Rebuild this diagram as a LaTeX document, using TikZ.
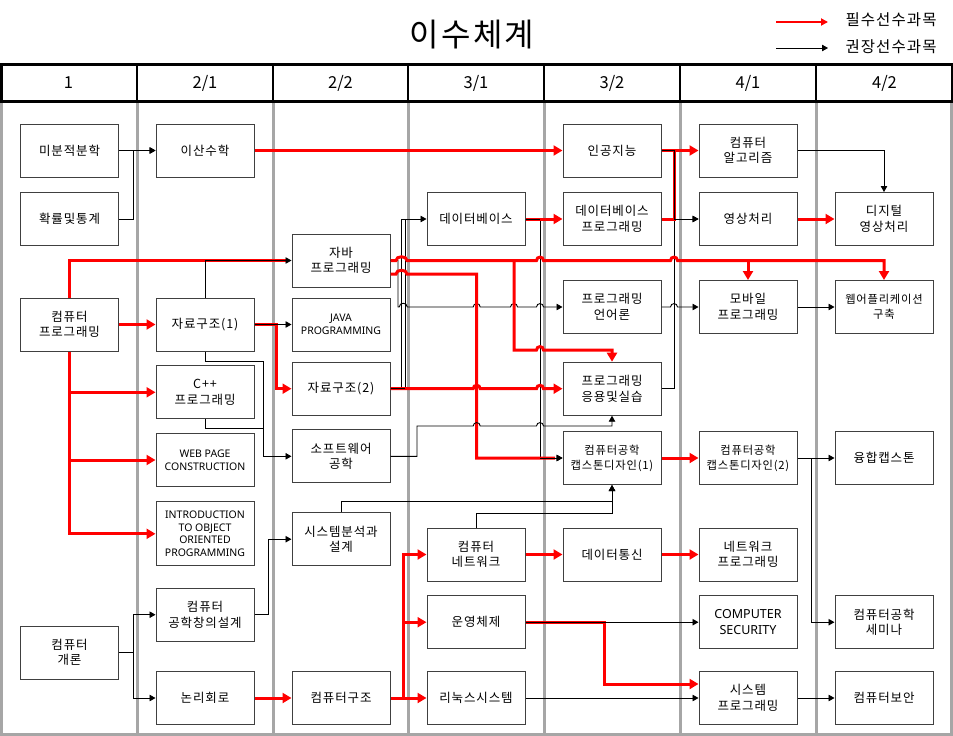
\documentclass[tikz,border=0pt]{standalone}
\usepackage{fontspec}
\setmainfont{Noto Sans CJK KR}
\newfontfamily\kr[LetterSpace=7]{Noto Sans CJK KR}
\newfontfamily\en{Noto Sans}
\usetikzlibrary{arrows.meta,calc}
\definecolor{gl}{RGB}{166,166,166}
\definecolor{rd}{RGB}{255,0,0}
\newcommand{\hp}[2]{-- ({#1-3.5},#2) .. controls ({#1-3.5},{#2-4.5}) and ({#1+3.5},{#2-4.5}) .. ({#1+3.5},#2)}
\newcommand{\hpw}[3]{-- ({#1-#3},#2) .. controls ({#1-#3},{#2-5}) and ({#1+#3},{#2-5}) .. ({#1+#3},#2)}
\begin{document}
\begin{tikzpicture}[x=1pt,y=-1pt,
 box/.style={draw=black!75,line width=1pt,fill=white,minimum width=98pt,minimum height=53pt,inner sep=1pt,align=center,font=\kr\fontsize{12.5}{15.5}\selectfont},
 boxs/.style={box,font=\kr\fontsize{11.3}{15}\selectfont},
 boxe/.style={box,font=\en\fontsize{10.5}{12.5}\selectfont},
 boxc/.style={box,font=\en\fontsize{12.5}{16.5}\selectfont},
 blk/.style={draw=black,line width=0.9pt},
 blka/.style={blk,-{Triangle[length=6pt,width=6.5pt]}},
 rl/.style={draw=rd,line width=3pt},
 rla/.style={rl,-{Triangle[length=9pt,width=10pt]}},
 hdr/.style={font=\fontsize{16.5}{18}\selectfont}
]
\useasboundingbox (0,0) rectangle (953,736);
\fill[white] (0,0) rectangle (953,736);

% title and legend
\node[font=\kr\fontsize{32}{36}\selectfont] (title) at (472,35) {이수체계};
\coordinate (lga) at (776,22);
\coordinate (lgb) at (828,22);
\draw[rd,line width=2pt,-{Triangle[length=7pt,width=7pt]}] (lga) -- (lgb);
\node[anchor=west,font=\kr\fontsize{15.5}{17}\selectfont] (lgt1) at (842,20) {필수선수과목};
\coordinate (lgc) at (776,48);
\coordinate (lgd) at (828,48);
\draw[blka] (lgc) -- (lgd);
\node[anchor=west,font=\kr\fontsize{15.5}{17}\selectfont] (lgt2) at (842,47) {권장선수과목};

% grey column lines
\foreach \x in {1.5,137,273,408,544,680,816,951.5}
  \draw[gl,line width=3pt] (\x,102.5) -- (\x,736);
\draw[gl,line width=3pt] (0,734.5) -- (953,734.5);

% header
\draw[line width=2.5pt] (1.25,64.5) rectangle (951.75,101.5);
\foreach \x in {137,273,408,544,680,816}
  \draw[line width=2.5pt] (\x,64.5) -- (\x,101.5);
\node[hdr] (h1) at (68.5,83) {1};
\node[hdr] (h2) at (205,83) {2/1};
\node[hdr] (h3) at (340.5,83) {2/2};
\node[hdr] (h4) at (476,83) {3/1};
\node[hdr] (h5) at (612,83) {3/2};
\node[hdr] (h6) at (748,83) {4/1};
\node[hdr] (h7) at (884.5,83) {4/2};

% column 1
\node[box] (c1a) at (69.5,150.5) {미분적분학};
\node[box] (c1b) at (69.5,219) {확률및통계};
\node[box] (c1c) at (69.5,324.5) {컴퓨터\\프로그래밍};
\node[box] (c1d) at (69.5,652.5) {컴퓨터\\개론};
% column 2
\node[box] (c2a) at (205,150.5) {이산수학};
\node[box] (c2b) at (205,324.5) {자료구조(1)};
\node[box] (c2c) at (205,392.3) {C++\\프로그래밍};
\node[boxe] (c2d) at (205,460) {WEB PAGE\\CONSTRUCTION};
\node[boxe,minimum height=64pt] (c2e) at (205,533.8) {INTRODUCTION\\TO OBJECT\\ORIENTED\\PROGRAMMING};
\node[box] (c2f) at (205,614.7) {컴퓨터\\공학창의설계};
\node[box] (c2g) at (205,698) {논리회로};
% column 3
\node[box] (c3a) at (341,260.5) {자바\\프로그래밍};
\node[boxe] (c3b) at (341,324.5) {JAVA\\PROGRAMMING};
\node[box] (c3c) at (341,388.7) {자료구조(2)};
\node[box] (c3d) at (341,456.3) {소프트웨어\\공학};
\node[box] (c3e) at (341,539.2) {시스템분석과\\설계};
\node[box] (c3f) at (341,698) {컴퓨터구조};
% column 4
\node[box] (c4a) at (476,219) {데이터베이스};
\node[box] (c4b) at (476,554.5) {컴퓨터\\네트워크};
\node[box] (c4c) at (476,622.2) {운영체제};
\node[box] (c4d) at (476,698) {리눅스시스템};
% column 5
\node[box] (c5a) at (612,150.5) {인공지능};
\node[box] (c5b) at (612,219) {데이터베이스\\프로그래밍};
\node[box] (c5c) at (612,307) {프로그래밍\\언어론};
\node[box] (c5d) at (612,388.7) {프로그래밍\\응용및실습};
\node[boxs] (c5e) at (612,458) {컴퓨터공학\\캡스톤디자인(1)};
\node[box] (c5f) at (612,554.5) {데이터통신};
% column 6
\node[box] (c6a) at (748,150.5) {컴퓨터\\알고리즘};
\node[box] (c6b) at (748,219) {영상처리};
\node[box] (c6c) at (748,307) {모바일\\프로그래밍};
\node[boxs] (c6d) at (748,458) {컴퓨터공학\\캡스톤디자인(2)};
\node[box] (c6e) at (748,554.5) {네트워크\\프로그래밍};
\node[boxc] (c6f) at (748,622.2) {COMPUTER\\SECURITY};
\node[box] (c6g) at (748,698) {시스템\\프로그래밍};
% column 7
\node[box] (c7a) at (884,219) {디지털\\영상처리};
\node[boxs] (c7b) at (884,307) {웹어플리케이션\\구축};
\node[box] (c7c) at (884,458) {융합캡스톤};
\node[box] (c7d) at (884,622.2) {컴퓨터공학\\세미나};
\node[box] (c7e) at (884,698) {컴퓨터보안};

% ---------- black connectors lying under red ones
\draw[blka] (c3c.east) -- (405,388.7) |- (c4a.west);
\draw[blk] (c3c.east) -- (401.5,388.7) -- (401.5,219) -- (405,219);
\draw[blka] (c3a.east) -- (398,260.5) -- (398,307) \hpw{403.25}{307}{4} \hp{476.7}{307} \hp{514}{307} \hp{540}{307} -- (c5c.west);
\draw[blka] (c4a.east) -- (540,219) -- (540,458) -- (c5e.west);
\draw[blka] (c5d.east) -- (674,388.7) -- (674,219) -- (c6b.west);

% ---------- red connectors
\draw[rla] (c2a.east) -- (c5a.west);
\draw[rla] (c5a.east) -- (c6a.west);
\draw[rl] (c5b.east) -- (674,219) -- (674,150.5);
\draw[rla] (c6b.east) -- (c7a.west);
\draw[rla] (c4a.east) -- (c5b.west);
\draw[rla] (c1c.east) -- (c2b.west);
\draw[rl] (c1c.north) |- (286,260.5);
\draw[rla] (c1c.south) |- (c2c.west);
\draw[rla] (c1c.south) |- (c2d.west);
\draw[rla] (c1c.south) |- (c2e.west);
\draw[rla] (c2b.east) -- (276.5,324.5) |- (c3c.west);
\draw[rla] (c3a.east) \hpw{401.5}{260.5}{5.5} -- (514,260.5) \hp{540}{260.5} \hp{674}{260.5} -| (c7b.north);
\draw[rla] (514,260.5) -- (514,350) \hp{540}{350} -| (c5d.north);
\draw[rla] (c6c.north |- c3a.east) -- (c6c.north);
\draw[rl] ($(c3a.east)+(0,13.5)$) \hpw{401.5}{274}{5.5} -- (476.7,274) -- (476.7,458) -- (555,458);
\draw[rla] (c3c.east) \hp{476.7}{388.7} \hp{540}{388.7} -- (c5d.west);
\draw[rla] (c5e.east) -- (c6d.west);
\draw[rla] (c4b.east) -- (c5f.west);
\draw[rla] (c5f.east) -- (c6e.west);
\draw[rla] (c4c.east) -- (604.6,622.2) |- ($(c6g.west)+(0,-14)$);
\draw[rla] (c2g.east) -- (c3f.west);
\draw[rla] (c3f.east) -- (403.5,698) |- (c4b.west);
\draw[rla] (403.5,698) |- (c4c.west);
\draw[rla] (c3f.east) -- (c4d.west);

% ---------- black connectors on top
\draw[blka] (c1a.east) -- (c2a.west);
\draw[blka] (c1b.east) -- ++(14,0) |- (c2a.west);
\draw[blka] (c1d.east) -- ++(14,0) |- (c2f.west);
\draw[blka] (c1d.east) -- ++(14,0) |- (c2g.west);
\draw[blka] (c2f.east) -- ++(14,0) |- (c3e.west);
\draw[blka] (c2b.north) |- (c3a.west);
\draw[blka] (c2b.east) -- (c3b.west);
\draw[blka] (c2b.south) -- ++(0,9.7) -| (263.3,456.3) -- (c3d.west);
\draw[blk] (c2c.south) |- (263.3,428.3);
\draw[blk] (c3c.east) -- (405,388.7);
\draw[blk] (c4a.east) -- (540,219);
\draw[blka] (540,458) -- (c5e.west);
\draw[blka] (c3d.east) -- (417,456.3) -- (417,426) \hp{476.7}{426} \hp{540}{426} -| (c5d.south);
\draw[blka] (c3e.north) |- (612,501.7) -- (c5e.south);
\draw[blka] (c4b.north) |- (612,513.3) -- (c5e.south);
\draw[blka] (c4c.east) -- (c6f.west);
\draw[blka] (c4d.east) -- (c6g.west);
\draw[blka] (c6g.east) -- (c7e.west);
\draw[blka] (c6d.east) -- (c7c.west);
\draw[blka] (c6d.east) -- (811,458) |- (c7d.west);
\draw[blka] (c6a.east) -| (c7a.north);
\draw[blka] (c5a.east) -- (674,150.5) |- (c6b.west);
\draw[blka] (c5c.east) \hp{674}{307} -- (c6c.west);
\draw[blka] (c6c.east) -- (c7b.west);
\end{tikzpicture}
\end{document}
